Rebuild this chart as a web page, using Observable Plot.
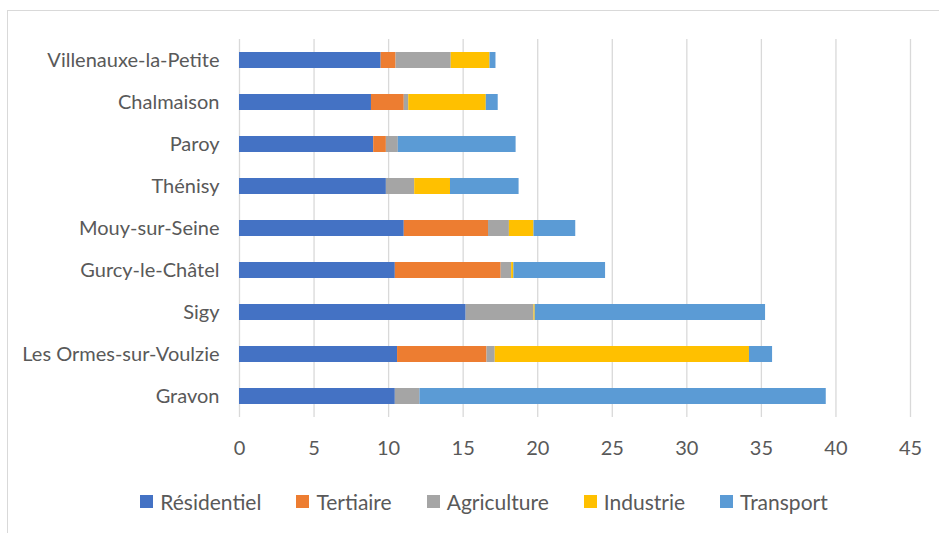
<!DOCTYPE html>
<html>
<head>
<meta charset="utf-8">
<script src="https://cdn.jsdelivr.net/npm/d3@7"></script>
<script src="https://cdn.jsdelivr.net/npm/@observablehq/plot@0.6"></script>
<style>
  html, body { margin: 0; padding: 0; background: #fff; width: 939px; height: 533px; overflow: hidden; }
  #frame { position: absolute; left: 7px; top: 10px; width: 1000px; height: 600px; border: 1px solid #d9d9d9; box-sizing: border-box; }
  #chart { position: absolute; left: 0; top: 0; }
  #legend { position: absolute; left: 0; top: 489px; width: 968px; display: flex; justify-content: center; align-items: center;
            font-family: Lato, "Open Sans", sans-serif; font-size: 21px; color: #595959; }
  .item { display: flex; align-items: center; margin: 0 17.5px; }
  .sw { width: 13px; height: 13px; margin-right: 7px; }
</style>
</head>
<body>
<div id="frame"></div>
<div id="chart"></div>
<div id="legend"></div>
<script>
const villages = ["Villenauxe-la-Petite", "Chalmaison", "Paroy", "Thénisy", "Mouy-sur-Seine", "Gurcy-le-Châtel", "Sigy", "Les Ormes-sur-Voulzie", "Gravon"];
const series = ["Résidentiel", "Tertiaire", "Agriculture", "Industrie", "Transport"];
const colors = ["#4472C4", "#ED7D31", "#A5A5A5", "#FFC000", "#5B9BD5"];
const residentiel = [9.5, 8.85, 9.0, 9.85, 11.05, 10.45, 15.2, 10.6, 10.45];
const tertiaire   = [1.0, 2.2, 0.85, 0, 5.65, 7.1, 0, 6.0, 0];
const agriculture = [3.7, 0.3, 0.8, 1.9, 1.4, 0.7, 4.55, 0.55, 1.65];
const industrie   = [2.6, 5.2, 0, 2.4, 1.65, 0.15, 0.08, 17.05, 0];
const transport   = [0.4, 0.8, 7.9, 4.6, 2.8, 6.15, 15.45, 1.55, 27.25];
const xTicks = [0, 5, 10, 15, 20, 25, 30, 35, 40, 45];

const valuesBySeries = [residentiel, tertiaire, agriculture, industrie, transport];
const data = [];
villages.forEach((v, i) => {
  series.forEach((s, j) => data.push({village: v, sector: s, value: valuesBySeries[j][i]}));
});

const chart = Plot.plot({
  width: 939,
  height: 470,
  marginTop: 39,
  marginBottom: 53,
  marginLeft: 239,
  marginRight: 29,
  style: {fontFamily: "Lato, 'Open Sans', sans-serif", fontSize: "20px", color: "#595959", background: "transparent"},
  x: {domain: [0, 45], ticks: xTicks, label: null},
  y: {domain: villages, paddingInner: 0.62, paddingOuter: 0.31, label: null},
  color: {domain: series, range: colors},
  marks: [
    Plot.gridX(xTicks, {stroke: "#d9d9d9", strokeOpacity: 1, strokeWidth: 1.3}),
    Plot.barX(data, {y: "village", x: "value", fill: "sector", order: series}),
    Plot.axisX(xTicks, {tickSize: 0, tickPadding: 23, fill: "#595959", fontSize: 20, label: null}),
    Plot.axisY({tickSize: 0, tickPadding: 20, fill: "#595959", fontSize: 20, label: null})
  ]
});
document.getElementById("chart").appendChild(chart);

const legend = document.getElementById("legend");
series.forEach((s, j) => {
  const it = document.createElement("div");
  it.className = "item";
  const sw = document.createElement("div");
  sw.className = "sw";
  sw.style.background = colors[j];
  const t = document.createElement("span");
  t.textContent = s;
  it.appendChild(sw); it.appendChild(t);
  legend.appendChild(it);
});
</script>
</body>
</html>
